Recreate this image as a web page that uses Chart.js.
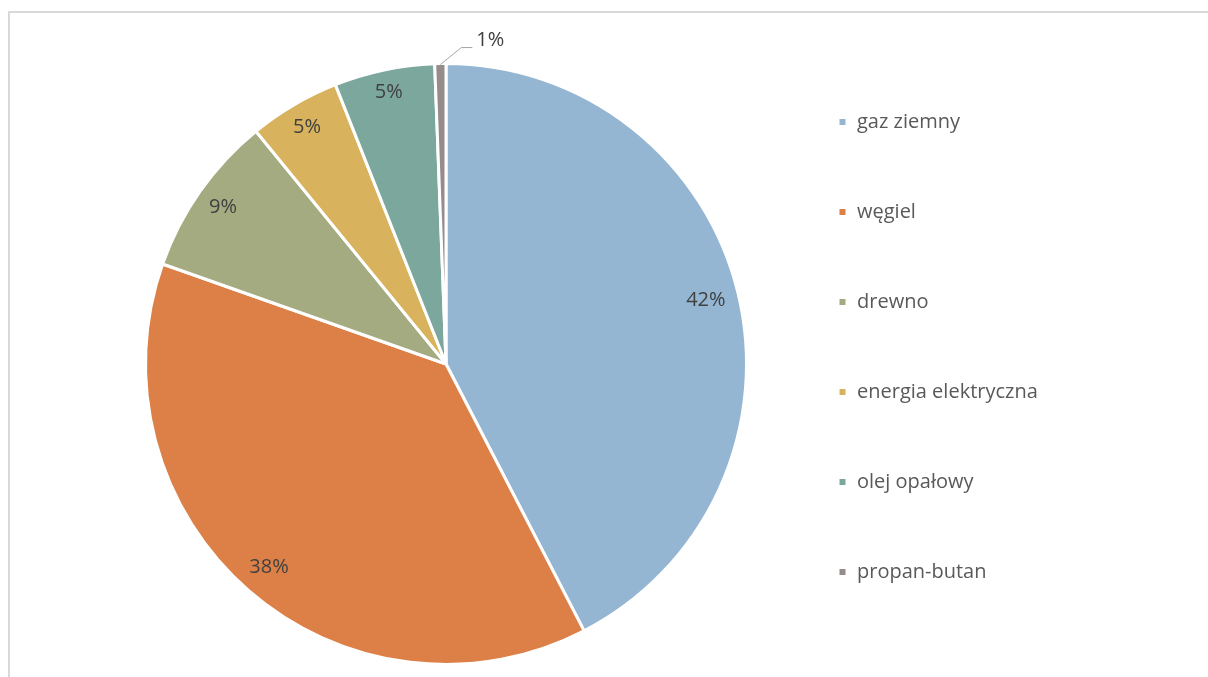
<!DOCTYPE html>
<html>
<head>
<meta charset="utf-8">
<script src="https://cdn.jsdelivr.net/npm/chart.js@4/dist/chart.umd.min.js"></script>
<style>
  html, body { margin: 0; padding: 0; background: #fff; overflow: hidden; width: 1208px; height: 677px; }
  #frame { position: absolute; left: 8px; top: 11px; width: 1400px; height: 900px;
           border-top: 2px solid #d9d9d9; border-left: 2px solid #d9d9d9; box-sizing: border-box; }
  #wrap { position: absolute; left: 0; top: 0; width: 1208px; height: 686px; }
</style>
</head>
<body>
<div id="frame"></div>
<div id="wrap"><canvas id="c" width="1208" height="686"></canvas></div>
<script>
const categories = ['gaz ziemny', 'węgiel', 'drewno', 'energia elektryczna', 'olej opałowy', 'propan-butan'];
const shares = [42.4, 38.0, 8.7, 4.9, 5.4, 0.6];
const sliceColors = ['#94B6D2', '#DD8047', '#A5AB81', '#D8B25C', '#7BA79D', '#968C8C'];

const FONT = '"Open Sans", "DejaVu Sans", sans-serif';
const FSIZE = 20;
const LEG_PAD = 70;
const BOX = 9;

// measure widest legend text to place legend
const mctx = document.createElement('canvas').getContext('2d');
mctx.font = FSIZE + 'px ' + FONT;
const maxText = Math.max(...categories.map(t => mctx.measureText(t).width));
const legendWidth = LEG_PAD + (BOX + FSIZE / 2 + maxText) + 10;
const legendLeft = 838 - LEG_PAD;
const padRight = 1208 - legendLeft - legendWidth;
const centerX = 446;
const padLeft = 2 * centerX - legendLeft;

const sliceLabels = {
  id: 'sliceLabels',
  afterDatasetsDraw(chart) {
    const ctx = chart.ctx;
    const meta = chart.getDatasetMeta(0);
    const vals = chart.data.datasets[0].data;
    const total = vals.reduce((a, b) => a + b, 0);
    ctx.save();
    ctx.font = FSIZE + 'px ' + FONT;
    ctx.fillStyle = '#404040';
    meta.data.forEach((arc, i) => {
      const p = arc.getProps(['x', 'y', 'startAngle', 'endAngle', 'outerRadius'], true);
      const mid = (p.startAngle + p.endAngle) / 2;
      const cos = Math.cos(mid), sin = Math.sin(mid);
      const frac = vals[i] / total;
      const txt = Math.round(frac * 100) + '%';
      const w = ctx.measureText(txt).width, h = 16;
      if (frac < 0.02) {
        const r0 = p.outerRadius - 1;
        const x0 = p.x + r0 * cos, y0 = p.y + r0 * sin;
        const x1 = x0 + 21, y1 = y0 - 17;
        const x2 = x1 + 11;
        ctx.strokeStyle = '#a6a6a6';
        ctx.lineWidth = 1;
        ctx.beginPath();
        ctx.moveTo(x0, y0); ctx.lineTo(x1, y1); ctx.lineTo(x2, y1);
        ctx.stroke();
        ctx.textAlign = 'left';
        ctx.textBaseline = 'middle';
        ctx.fillText(txt, x2 + 4, y1 - 7);
      } else {
        const r = p.outerRadius - 12 - (Math.abs(cos) * w / 2 + Math.abs(sin) * h / 2);
        ctx.textAlign = 'center';
        ctx.textBaseline = 'middle';
        ctx.fillText(txt, p.x + r * cos, p.y + r * sin);
      }
    });
    ctx.restore();
  }
};

new Chart(document.getElementById('c'), {
  type: 'pie',
  data: {
    labels: categories,
    datasets: [{
      data: shares,
      backgroundColor: sliceColors,
      borderColor: '#ffffff',
      borderWidth: 3
    }]
  },
  options: {
    responsive: false,
    animation: false,
    radius: 300.5,
    layout: { padding: { top: 42, bottom: 0, left: padLeft, right: padRight } },
    plugins: {
      tooltip: { enabled: false },
      legend: {
        position: 'right',
        align: 'start',
        labels: {
          boxWidth: BOX,
          boxHeight: BOX,
          padding: LEG_PAD,
          color: '#595959',
          font: { family: FONT, size: FSIZE }
        }
      }
    }
  },
  plugins: [sliceLabels]
});
</script>
</body>
</html>
